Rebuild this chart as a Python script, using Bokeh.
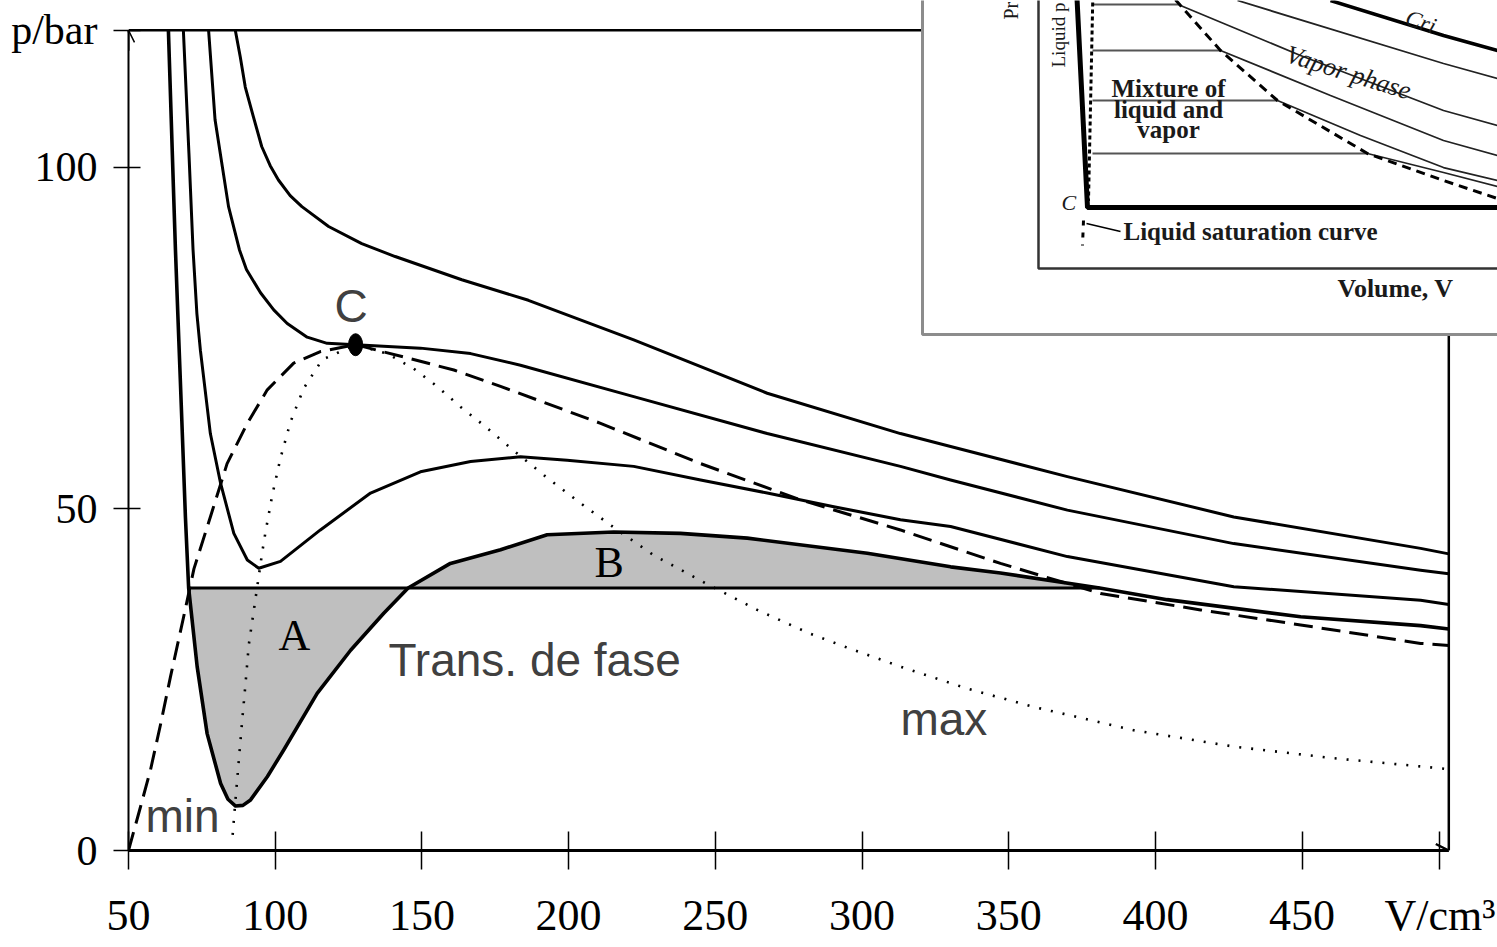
import numpy as np
from bokeh.plotting import figure
from bokeh.models import Range1d, FixedTicker, Label, Arrow, OpenHead
from bokeh.embed import file_html
from bokeh.resources import INLINE

# ---------------- main chart data (V in cm^3, p in bar) ----------------
X_MIN, X_MAX = 50, 500
Y_MIN, Y_MAX = 0, 120
X_TICKS = [50, 100, 150, 200, 250, 300, 350, 400, 450]
Y_TICKS = [0, 50, 100]
X_TITLE, X_TITLE_AT = "V/cm³", 497
Y_TITLE, Y_TITLE_AT = "p/bar", 120

V_T1 = [86.4, 88.1, 89.8, 92.6, 95.4, 98.3, 101.1, 105.1, 109.1, 118.2, 129.5, 140.9, 163.6, 186.3, 222.2, 267.7, 313.1, 330.2, 370.0, 426.7, 490.4, 500.0]
P_T1 = [120.0, 116.1, 111.7, 107.3, 103.0, 100.2, 98.1, 95.8, 94.2, 91.3, 88.8, 86.9, 83.5, 80.5, 74.7, 66.9, 61.0, 59.1, 54.7, 48.8, 44.2, 43.4]

V_T2 = [77.3, 79.5, 84.1, 87.8, 90.2, 95.0, 99.5, 104.1, 110.9, 117.7, 127.4, 149.5, 166.6, 183.6, 222.2, 267.7, 313.1, 330.2, 370.0, 426.7, 490.4, 500.0]
P_T2 = [120.0, 106.9, 94.2, 87.9, 85.0, 81.6, 79.1, 77.1, 75.1, 74.2, 74.0, 73.5, 72.7, 71.0, 66.4, 61.0, 56.2, 54.2, 49.8, 44.9, 41.0, 40.5]

V_T3 = [68.7, 70.6, 72.0, 73.3, 74.5, 77.9, 81.4, 85.9, 90.5, 94.4, 101.8, 115.4, 132.5, 149.5, 166.6, 183.6, 199.5, 222.2, 245.0, 267.7, 290.4, 313.1, 330.2, 370.0, 426.7, 490.4, 500.0]
P_T3 = [120.0, 102.0, 87.9, 78.6, 73.2, 61.0, 53.7, 46.4, 42.5, 41.3, 42.3, 46.9, 52.3, 55.4, 56.9, 57.6, 57.1, 56.2, 54.2, 52.3, 50.3, 48.4, 47.4, 43.0, 38.6, 36.6, 36.0]

V_T4 = [63.6, 65.3, 66.0, 66.8, 67.7, 69.4, 70.5, 73.4, 76.8, 81.4, 83.9, 86.5, 89.0, 91.6, 97.3, 102.9, 114.3, 125.7, 137.0, 145.3, 159.7, 176.8, 192.7, 215.4, 238.1, 260.9, 301.8, 330.2, 347.2, 381.0, 404.0, 449.5, 490.4, 500.0]
P_T4 = [120.0, 97.1, 87.9, 78.6, 68.4, 48.8, 38.4, 26.9, 17.1, 9.8, 7.5, 6.5, 6.6, 7.4, 10.8, 14.7, 23.0, 29.3, 34.7, 38.4, 42.0, 44.0, 46.2, 46.6, 46.4, 45.7, 43.5, 41.5, 40.6, 38.4, 36.7, 34.2, 32.9, 32.4]

# Maxwell construction (phase transition pressure)
P_SAT = 38.4
V_LIQ = 70.5
V_VAP = 381.0

# dashed curve
V_BI = [50.0, 54.1, 57.5, 60.9, 64.3, 68.8, 72.3, 77.9, 83.6, 90.5, 97.3, 106.3, 115.4, 127.4, 143.8, 160.9, 176.8, 210.9, 245.0, 279.0, 313.1, 347.2, 381.3, 415.4, 449.5, 490.4, 500.0]
P_BI = [0.0, 6.4, 11.8, 18.4, 25.4, 34.2, 41.2, 48.8, 56.6, 62.5, 67.4, 71.3, 73.0, 74.0, 72.2, 70.3, 67.9, 62.5, 56.6, 51.3, 46.9, 42.0, 37.6, 35.2, 33.0, 30.3, 30.0]

# dotted curve (extrema locus)
V_SP = [85.5, 86.5, 87.6, 88.7, 89.9, 91.0, 92.9, 95.6, 96.7, 99.0, 101.8, 105.2, 109.7, 116.0, 127.4, 138.2, 147.2, 155.2, 163.2, 171.7, 179.6, 191.6, 204.1, 216.6, 229.0, 246.7, 264.3, 281.9, 295.5, 313.1, 335.8, 358.6, 392.6, 426.7, 460.8, 490.4, 500.0]
P_SP = [2.3, 7.6, 13.2, 18.8, 24.5, 30.1, 35.7, 43.7, 46.6, 52.0, 57.4, 62.7, 67.6, 71.8, 74.0, 72.7, 70.5, 67.9, 64.9, 62.0, 59.1, 54.9, 50.8, 46.9, 43.2, 39.1, 35.2, 31.8, 29.6, 26.9, 23.7, 21.0, 17.6, 15.2, 13.5, 12.3, 11.9]

# critical point
V_C, P_C = 127.4, 74.0

# text annotations (anchor = left / vertical middle of the text)
ANN_TEXT = ["C", "Trans. de fase", "max", "min"]
ANN_V = [120.2, 138.6, 313.1, 55.8]
ANN_P = [79.7, 27.8, 19.2, 5.1]
AREA_TEXT = ["A", "B"]
AREA_V = [101.1, 208.8]
AREA_P = [31.5, 42.1]

# ---------------- inset (schematic p-V diagram, own relative units) ----------------
INSET_BOX = dict(left=-23.2, right=120.0, bottom=-13.2, top=80.0)
IN_AXIS_U = [0.0, 0.0, 120.0]
IN_AXIS_V = [80.0, 0.0, 0.0]
IN_LIQ_U = [7.6, 9.8, 120.0]
IN_LIQ_V = [56.0, 12.2, 12.2]
IN_LSAT_U = [10.9, 10.0]
IN_LSAT_V = [56.0, 13.5]
IN_LSAT2_U = [9.0, 8.8]
IN_LSAT2_V = [9.6, 4.6]
IN_LEADER_U = [9.6, 16.4]
IN_LEADER_V = [9.0, 7.4]
IN_TIE_V = [52.8, 43.6, 33.6, 23.0]
IN_TIE_U0 = 10.8
IN_TIE_U1 = [28.4, 36.4, 47.8, 65.8]
IN_VSAT_U = [25.4, 28.4, 36.4, 47.8, 65.8, 81.0, 91.8]
IN_VSAT_V = [56.0, 52.6, 43.6, 33.6, 23.0, 17.6, 14.0]
IN_ISO_U = [[28.4, 52.4, 81.0, 91.8], [36.4, 58.4, 81.0, 91.8], [47.8, 64.4, 81.0, 91.8],
            [65.8, 81.0, 91.8], [39.8, 81.0, 91.8]]
IN_ISO_V = [[52.6, 42.6, 31.6, 28.6], [43.6, 34.6, 25.6, 22.6], [33.6, 26.6, 20.2, 17.6],
            [23.0, 19.2, 16.4], [53.6, 41.0, 38.0]]
IN_CRIT_U = [58.4, 81.0, 91.8]
IN_CRIT_V = [53.6, 46.6, 43.6]

# ---------------- figure ----------------
PX_X = 2.934   # px per cm^3
PX_Y = 6.835   # px per bar
W, H = 1497, 947
BL, BB = 128, 97
x_end = X_MIN + (W - BL) / PX_X
y_end = Y_MIN + (H - BB) / PX_Y

p = figure(width=W, height=H, output_backend="svg", toolbar_location=None,
           x_range=Range1d(X_MIN, x_end), y_range=Range1d(Y_MIN, y_end),
           min_border_left=BL, min_border_right=0, min_border_top=0, min_border_bottom=BB)
p.outline_line_color = None
p.grid.visible = False
p.background_fill_color = "white"
p.border_fill_color = "white"

# inset coordinate system
IU, IV = 5.0, 5.0  # px per inset unit
IN_X0, IN_Y0 = 1038, 268   # inset origin in canvas px
p.extra_x_ranges = {"ix": Range1d((BL - IN_X0) / IU, (W - IN_X0) / IU)}
p.extra_y_ranges = {"iy": Range1d((IN_Y0 - (H - BB)) / IV, IN_Y0 / IV)}

TICK_FONT = "Liberation Serif"
for ax in p.xaxis:
    ax.bounds = (X_MIN, X_MAX)
    ax.ticker = FixedTicker(ticks=X_TICKS + [X_TITLE_AT])
    ax.major_label_overrides = {X_TITLE_AT: X_TITLE}
    ax.axis_line_width = 3
    ax.major_tick_in = 19
    ax.major_tick_out = 19
    ax.major_tick_line_width = 1.5
    ax.minor_tick_line_color = None
    ax.major_label_text_font = TICK_FONT
    ax.major_label_text_font_size = "44px"
    ax.major_label_text_color = "black"
    ax.major_label_standoff = 21
for ax in p.yaxis:
    ax.bounds = (Y_MIN, Y_MAX)
    ax.ticker = FixedTicker(ticks=Y_TICKS + [Y_TITLE_AT])
    ax.major_label_overrides = {Y_TITLE_AT: Y_TITLE}
    ax.axis_line_width = 2
    ax.major_tick_in = 12
    ax.major_tick_out = 15
    ax.major_tick_line_width = 1.5
    ax.minor_tick_line_color = None
    ax.major_label_text_font = TICK_FONT
    ax.major_label_text_font_size = "42px"
    ax.major_label_text_color = "black"
    ax.major_label_standoff = 16

# shaded areas A and B
V4 = np.array(V_T4)
P4 = np.array(P_T4)
m = (V4 >= V_LIQ) & (V4 <= V_VAP)
p.varea(x=V4[m], y1=P4[m], y2=np.full(int(m.sum()), P_SAT), fill_color="#bfbfbf")

# frame lines (top and right)
p.line([X_MIN, X_MAX, X_MAX], [Y_MAX, Y_MAX, Y_MIN], line_color="black", line_width=2.5)

# curves
p.line(V_SP, P_SP, line_color="black", line_width=2.6, line_dash="2 10")
p.line(V_BI, P_BI, line_color="black", line_width=3, line_dash="19 9", line_join="round")
for vv, pp, lw in [(V_T1, P_T1, 3), (V_T2, P_T2, 3), (V_T3, P_T3, 3), (V_T4, P_T4, 3.6)]:
    p.line(vv, pp, line_color="black", line_width=lw, line_join="round")
p.line([V_LIQ, V_VAP], [P_SAT, P_SAT], line_color="black", line_width=3)
p.ellipse(x=[V_C], y=[P_C], width=14, height=22, width_units="screen", height_units="screen",
          fill_color="black", line_color="black")

# axis arrows
p.add_layout(Arrow(end=OpenHead(size=13, line_width=2.5, line_color="black"),
                   x_start=X_MAX - 5, y_start=Y_MIN, x_end=X_MAX, y_end=Y_MIN, line_width=3))
p.add_layout(Arrow(end=OpenHead(size=12, line_width=1.5, line_color="black"),
                   x_start=X_MIN, y_start=Y_MAX - 3, x_end=X_MIN, y_end=Y_MAX, line_width=2))

# text annotations
for t, v, pr in zip(ANN_TEXT, ANN_V, ANN_P):
    p.add_layout(Label(x=v, y=pr, text=t, text_font="Liberation Sans", text_font_size="46px",
                       text_color="#404040", text_baseline="middle", text_align="left"))
for t, v, pr in zip(AREA_TEXT, AREA_V, AREA_P):
    p.add_layout(Label(x=v, y=pr, text=t, text_font="Liberation Serif", text_font_size="44px",
                       text_color="black", text_baseline="middle", text_align="left"))

# ---------------- inset drawing ----------------
R = dict(x_range_name="ix", y_range_name="iy")
p.quad(left=INSET_BOX["left"], right=INSET_BOX["right"], bottom=INSET_BOX["bottom"], top=INSET_BOX["top"],
       fill_color="white", line_color="#8c8c8c", line_width=3, **R)
p.line(IN_AXIS_U, IN_AXIS_V, line_color="#333333", line_width=2.5, **R)
for v, u1 in zip(IN_TIE_V, IN_TIE_U1):
    p.line([IN_TIE_U0, u1], [v, v], line_color="#555555", line_width=2, **R)
for uu, vv in zip(IN_ISO_U, IN_ISO_V):
    p.line(uu, vv, line_color="#222222", line_width=1.8, **R)
p.line(IN_CRIT_U, IN_CRIT_V, line_color="black", line_width=3.5, **R)
p.line(IN_VSAT_U, IN_VSAT_V, line_color="black", line_width=3, line_dash="9 6", **R)
p.line(IN_LIQ_U, IN_LIQ_V, line_color="black", line_width=5, **R)
p.line(IN_LSAT_U, IN_LSAT_V, line_color="black", line_width=3, line_dash="4 3", **R)
p.line(IN_LSAT2_U, IN_LSAT2_V, line_color="black", line_width=3, line_dash="5 7", **R)
p.line(IN_LEADER_U, IN_LEADER_V, line_color="black", line_width=1.5, **R)

IN_FONT = "Liberation Serif"
# (text, u, v, angle, align, style, size)  -- anchor at vertical middle of the text
inset_texts = [
    ("Mixture of", 26.0, 36.0, 0.0, "center", "bold", "25px"),
    ("liquid and", 26.0, 31.8, 0.0, "center", "bold", "25px"),
    ("vapor", 26.0, 27.8, 0.0, "center", "bold", "25px"),
    ("Vapor phase", 62.0, 39.2, -0.30, "center", "italic", "26px"),
    ("Cri", 73.6, 50.3, -0.33, "left", "italic", "23px"),
    ("C", 4.6, 13.2, 0.0, "left", "italic", "22px"),
    ("Liquid saturation curve", 17.0, 7.4, 0.0, "left", "bold", "25px"),
    ("Volume, V", 59.8, -3.9, 0.0, "left", "bold", "26px"),
    ("Pr", -5.6, 49.8, np.pi / 2, "left", "normal", "20px"),
    ("Liquid p", 4.0, 40.2, np.pi / 2, "left", "normal", "19px"),
]
for t, u, v, ang, al, st, fs in inset_texts:
    p.add_layout(Label(x=u, y=v, text=t, angle=ang, text_align=al, text_baseline="middle",
                       text_font=IN_FONT, text_font_style=st, text_font_size=fs,
                       text_color="#1a1a1a", **R))

open("out.html", "w").write(file_html(p, INLINE))
